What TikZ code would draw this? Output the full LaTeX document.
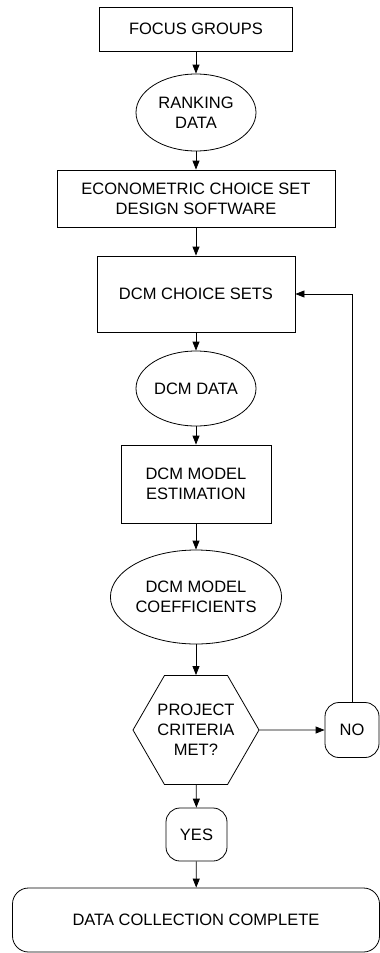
\documentclass[tikz,border=0pt]{standalone}
\usepackage{fontspec}
\setmainfont{Liberation Sans}
\usetikzlibrary{shapes.geometric,arrows.meta}

\begin{document}
\begin{tikzpicture}[x=1pt,y=-1pt,line width=0.8pt,
			every node/.style={draw,inner sep=0pt,align=center,
				font=\fontsize{16.5}{20}\selectfont},
			box/.style={rectangle},
			blob/.style={ellipse},
			hex/.style={regular polygon,regular polygon sides=6,minimum size=126pt},
			%rounded ends for the answers and the last step
			rbox/.style={rectangle,rounded corners=14pt},
			>={Triangle[length=9pt,width=7pt]}]
		\useasboundingbox (0,0) rectangle (380,953);
		\node[box, minimum width=193pt, minimum height=44pt] (focus) at (196,29) {FOCUS GROUPS};
		\node[blob, minimum width=120pt, minimum height=77pt] (rank) at (196,112.5) {RANKING\\DATA};
		\node[box, minimum width=278pt, minimum height=57pt] (econ) at (196,198.5) {ECONOMETRIC CHOICE SET\\DESIGN SOFTWARE};
		\node[box, minimum width=198pt, minimum height=76pt] (sets) at (196,294) {DCM CHOICE SETS};
		\node[blob, minimum width=120pt, minimum height=75pt] (data) at (196,388.5) {DCM DATA};
		\node[box, minimum width=150pt, minimum height=78pt] (est) at (196,484) {DCM MODEL\\ESTIMATION};
		\node[blob, minimum width=168pt, minimum height=94pt] (coef) at (196,597) {DCM MODEL\\COEFFICIENTS};
		\node[hex] (crit) at (196,730) {PROJECT\\CRITERIA\\MET?};
		\node[rbox, minimum width=54pt, minimum height=55pt] (no) at (352,730) {NO};
		\node[rbox, minimum width=61pt, minimum height=53pt] (yes) at (196.5,834.5) {YES};
		\node[rbox, rounded corners=16pt, minimum width=367pt, minimum height=64pt] (done) at (196,920) {DATA COLLECTION COMPLETE};

		\draw[->] (focus) -- (rank);
		\draw[->] (rank) -- (econ);
		\draw[->] (econ) -- (sets);
		\draw[->] (sets) -- (data);
		\draw[->] (data) -- (est);
		\draw[->] (est) -- (coef);
		\draw[->] (coef) -- (crit);
		\draw[->] (crit) -- (yes);
		\draw[->] (yes) -- (done);
		\draw[->] (crit.east) -- (no.west);
		\draw[->] (no.north) |- (sets.east);
\end{tikzpicture}
\end{document}
